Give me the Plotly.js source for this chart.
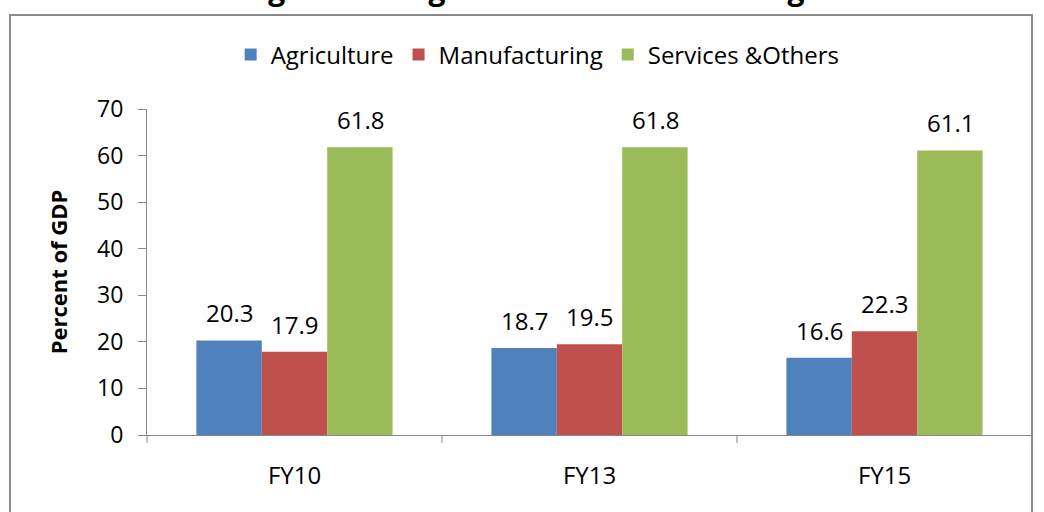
<!DOCTYPE html>
<html>
<head>
<meta charset="utf-8">
<script src="https://cdn.plot.ly/plotly-3.0.1.min.js"></script>
<style>html,body{margin:0;padding:0;background:#fff;}#chart{width:1044px;height:512px;}</style>
</head>
<body>
<div id="chart"></div>
<script>
var categories = ["FY10", "FY13", "FY15"];
var seriesNames = ["Agriculture", "Manufacturing", "Services &Others"];
var agriculture = [20.3, 18.7, 16.6];
var manufacturing = [17.9, 19.5, 22.3];
var services = [61.8, 61.8, 61.1];
var yTicks = [0, 10, 20, 30, 40, 50, 60, 70];
var colors = ["#4F81BD", "#C0504D", "#9BBB59"];

var FONT = "Open Sans, Liberation Sans, sans-serif";
var allSeries = [agriculture, manufacturing, services];

var traces = allSeries.map(function (vals, i) {
  return {
    type: "bar",
    name: seriesNames[i],
    x: categories,
    y: vals,
    marker: { color: colors[i], line: { width: 0 } },
    hoverinfo: "x+y+name"
  };
});

// data labels as annotations above each bar
var barPx = 65.5;
var annotations = [];
allSeries.forEach(function (vals, i) {
  vals.forEach(function (v, j) {
    annotations.push({
      x: categories[j], y: v, xref: "x", yref: "y",
      text: v.toFixed(1), showarrow: false,
      xshift: (i - 1) * barPx, yshift: 9, yanchor: "bottom",
      font: { family: FONT, size: 24, color: "#000" }
    });
  });
});

var layout = {
  width: 1044, height: 512,
  margin: { l: 147, r: 12, t: 109, b: 77 },
  paper_bgcolor: "#fff", plot_bgcolor: "#fff",
  barmode: "group", bargap: 0.335, bargroupgap: 0,
  font: { family: FONT, size: 22, color: "#000" },
  title: {
    text: "<b>Figure 3: Progress in Structural Change</b>",
    font: { family: FONT, size: 30, color: "#000" },
    x: 0.51, xanchor: "center", xref: "container",
    y: 1, yanchor: "bottom", yref: "container"
  },
  showlegend: true,
  legend: {
    orientation: "h", x: 0.515, xanchor: "center", xref: "container",
    y: 1 - 55 / 512, yanchor: "middle", yref: "container",
    font: { family: FONT, size: 24, color: "#000" },
    itemwidth: 30, itemsizing: "constant", tracegroupgap: 0,
    traceorder: "normal"
  },
  xaxis: {
    type: "category",
    showline: true, linecolor: "#888", linewidth: 1,
    ticks: "", showgrid: false, zeroline: false,
    tickfont: { family: FONT, size: 24, color: "#000" },
    ticklabelstandoff: 19
  },
  yaxis: {
    range: [0, 70], tickvals: yTicks,
    showline: true, linecolor: "#888", linewidth: 1,
    ticks: "outside", ticklen: 8, tickcolor: "#888",
    showgrid: false, zeroline: false,
    tickfont: { family: FONT, size: 23, color: "#000" },
    ticklabelstandoff: 10,
    title: { text: "<b>Percent of GDP</b>", font: { family: FONT, size: 22, color: "#000" }, standoff: 23 }
  },
  annotations: annotations,
  shapes: [
    // outer chart border
    { type: "rect", xref: "paper", yref: "paper",
      x0: (10 - 147) / 885, x1: (1032 - 147) / 885,
      y0: (435 - 530) / 326, y1: (435 - 15) / 326,
      line: { color: "#8c8c8c", width: 2 }, fillcolor: "rgba(0,0,0,0)", layer: "below" },
    // category separator ticks on x axis
    { type: "line", xref: "paper", yref: "paper", x0: 1 / 3, x1: 1 / 3, y0: 0, y1: -8 / 326, line: { color: "#888", width: 1 } },
    { type: "line", xref: "paper", yref: "paper", x0: 2 / 3, x1: 2 / 3, y0: 0, y1: -8 / 326, line: { color: "#888", width: 1 } },
    { type: "line", xref: "paper", yref: "paper", x0: 0, x1: 0, y0: 0, y1: -8 / 326, line: { color: "#888", width: 1 } },
    { type: "line", xref: "paper", yref: "paper", x0: 1, x1: 1, y0: 0, y1: -8 / 326, line: { color: "#888", width: 1 } }
  ]
};

Plotly.newPlot("chart", traces, layout, { displayModeBar: false, staticPlot: true });
</script>
</body>
</html>
